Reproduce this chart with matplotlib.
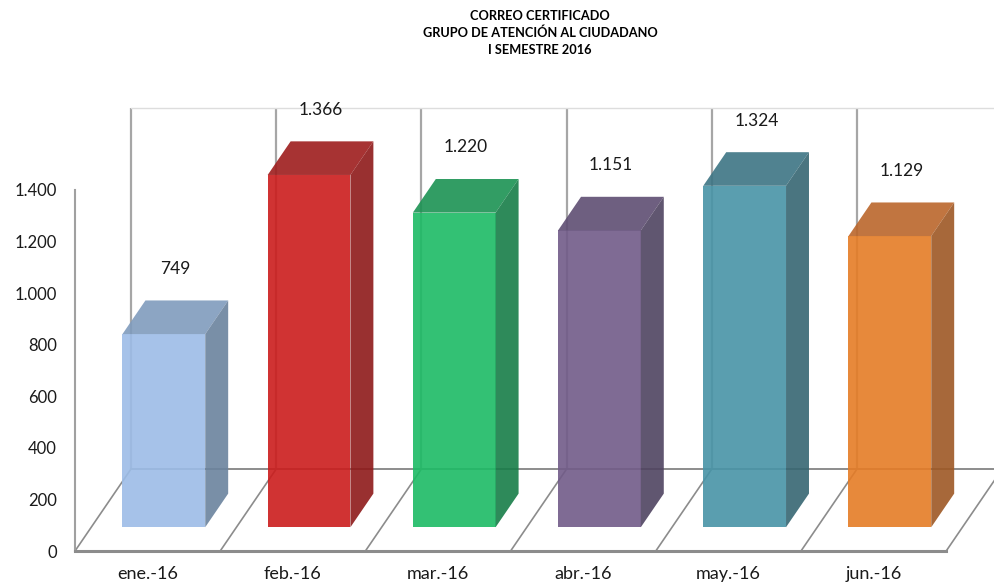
import matplotlib
matplotlib.use("Agg")
import matplotlib.pyplot as plt
from matplotlib.patches import Polygon

plt.rcParams['font.family'] = ['Lato', 'DejaVu Sans']

# ---- data ----
categories = ["ene.-16", "feb.-16", "mar.-16", "abr.-16", "may.-16", "jun.-16"]
values = [749, 1366, 1220, 1151, 1324, 1129]
value_labels = ["749", "1.366", "1.220", "1.151", "1.324", "1.129"]
y_ticks = [0, 200, 400, 600, 800, 1000, 1200, 1400]
y_tick_labels = ["0", "200", "400", "600", "800", "1.000", "1.200", "1.400"]
title_lines = ["CORREO CERTIFICADO", "GRUPO DE ATENCIÓN AL CIUDADANO", "I SEMESTRE 2016"]

front_colors = ["#A6C3E9", "#D03434", "#34C274", "#7F6B94", "#5A9FB0", "#E8893C"]
side_colors = ["#7A8FA8", "#993030", "#2E8A5A", "#615670", "#4A7580", "#A8693A"]
top_colors = ["#8DA5C4", "#A83434", "#339E64", "#6E5F80", "#508390", "#C27540"]

# ---- pseudo-3D geometry (depth offsets in data units) ----
OX = 0.3857      # horizontal shift per unit depth (category units)
OY = 318.0       # vertical shift per unit depth (value units)
D0, D1 = 0.29, 0.70   # bar front / back depth
BW = 0.57        # bar width (category units)
YMAX = 1400
ALPHA = 0.9


def unblend(hexc, a=ALPHA):
    h = hexc.lstrip('#')
    rgb = [int(h[i:i + 2], 16) / 255 for i in (0, 2, 4)]
    return tuple(min(1, max(0, (c - (1 - a)) / a)) for c in rgb)


def P(x, d, v):
    return (x + d * OX, v + d * OY)


W, H = 994, 586
fig = plt.figure(figsize=(W / 100, H / 100), dpi=100)
ax = fig.add_axes([0, 0, 1, 1])
px_per_cat = 145.2
px_per_val = 1 / 3.878
x0_px, y0_px = 75, 551
ax.set_xlim(-x0_px / px_per_cat, (W - x0_px) / px_per_cat)
ax.set_ylim(-(H - y0_px) / px_per_val, y0_px / px_per_val)

n = len(categories)
grid_c = "#A6A6A6"
floor_c = "#8C8C8C"

# back wall verticals and top line
for i in range(n + 1):
    xa, ya = P(i, 1, 0)
    xb, yb = P(i, 1, YMAX)
    ax.plot([xa, xb], [ya, yb], color=grid_c, lw=1.6, zorder=1, solid_capstyle='butt')
xa, ya = P(0, 1, YMAX)
xb, yb = P(n, 1, YMAX)
ax.plot([xa, xb], [ya, yb], color="#DDDDDD", lw=1.0, zorder=1)

# floor
for i in range(n + 1):
    xa, ya = P(i, 0, 0)
    xb, yb = P(i, 1, 0)
    ax.plot([xa, xb], [ya, yb], color=floor_c, lw=1.2, zorder=1)
xa, ya = P(0, 1, 0)
xb, yb = P(n, 1, 0)
ax.plot([xa, xb], [ya, yb], color=floor_c, lw=1.4, zorder=1)

# bars
for i, v in enumerate(values):
    xl = i + 0.5 - BW / 2
    xr = i + 0.5 + BW / 2
    # front face through bar()
    ax.bar(xl + D0 * OX, v, width=BW, bottom=D0 * OY, align='edge',
           color=unblend(front_colors[i]), alpha=ALPHA, zorder=3, linewidth=0)
    top = [P(xl, D0, v), P(xr, D0, v), P(xr, D1, v), P(xl, D1, v)]
    side = [P(xr, D0, 0), P(xr, D1, 0), P(xr, D1, v), P(xr, D0, v)]
    ax.add_patch(Polygon(top, closed=True, facecolor=unblend(top_colors[i]),
                         alpha=ALPHA, lw=0, zorder=3))
    ax.add_patch(Polygon(side, closed=True, facecolor=unblend(side_colors[i]),
                         alpha=ALPHA, lw=0, zorder=3))
    lx, ly = P(i + 0.5, 0.5, v + 345 - 0.5 * OY)
    ax.text(lx, ly, value_labels[i], ha='center', va='center', fontsize=12.5,
            color="#1a1a1a", zorder=5)

# axes: spines, ticks
for s in ['top', 'right']:
    ax.spines[s].set_visible(False)
ax.spines['left'].set_position(('data', 0))
ax.spines['left'].set_bounds(0, YMAX)
ax.spines['left'].set_color("#A0A0A0")
ax.spines['left'].set_linewidth(1.5)
ax.spines['bottom'].set_position(('data', 0))
ax.spines['bottom'].set_bounds(0, n)
ax.spines['bottom'].set_color(floor_c)
ax.spines['bottom'].set_linewidth(2.2)
ax.spines['bottom'].set_zorder(4)
ax.patch.set_visible(False)

ax.set_yticks(y_ticks)
ax.set_yticklabels(y_tick_labels)
ax.set_xticks([i + 0.5 for i in range(n)])
ax.set_xticklabels(categories)
ax.tick_params(axis='y', length=0, pad=13, labelsize=12, labelcolor="#1a1a1a")
ax.tick_params(axis='x', length=0, pad=11, labelsize=13, labelcolor="#1a1a1a")

# title
for k, t in enumerate(title_lines):
    fig.text(540 / W, 1 - (16 + 17 * k) / H, t, ha='center', va='center',
             fontsize=9.2, fontweight='bold', color="#000000")

fig.savefig("out.png", dpi=100)
